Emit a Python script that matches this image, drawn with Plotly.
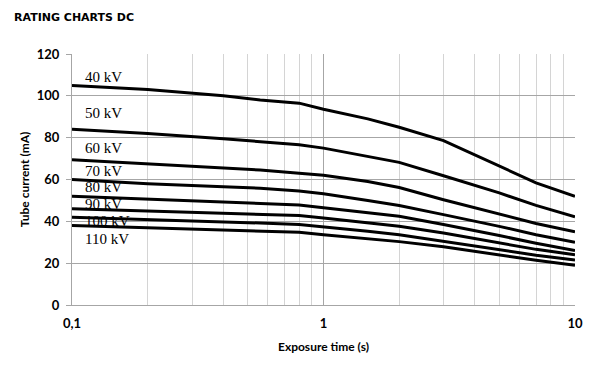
import plotly.graph_objects as go
import math

# Exposure time (s)
times = [0.1, 0.2, 0.4, 0.56, 0.8, 1, 1.5, 2, 3, 4, 5, 7, 10]

# Tube current (mA) per tube voltage
kv_labels = ["40 kV", "50 kV", "60 kV", "70 kV", "80 kV", "90 kV", "100 kV", "110 kV"]
ma_40 = [105, 103, 100, 98, 96.5, 93.6, 89, 85, 78.6, 71.8, 66.2, 58.4, 52]
ma_50 = [84, 82, 79.5, 78, 76.6, 75, 71.2, 68.2, 61.8, 57.2, 53.6, 47.6, 42.2]
ma_60 = [69.5, 67.5, 65.5, 64.5, 63, 62, 59, 56.2, 50.3, 46.5, 43.5, 39, 35]
ma_70 = [60, 58, 56.5, 55.8, 54.5, 53.2, 50, 47.6, 43.2, 40.2, 37.6, 33.6, 30]
ma_80 = [52, 50.5, 49.2, 48.6, 47.8, 46.5, 44.2, 42.4, 38.5, 35.6, 33.2, 29.5, 26]
ma_90 = [46, 45, 44, 43.6, 42.8, 41.6, 39.4, 37.6, 34.4, 31.8, 29.8, 26.6, 24]
ma_100 = [42, 41, 39.8, 39.2, 38.5, 37.4, 35.3, 33.6, 30.5, 28.2, 26.4, 23.8, 21.5]
ma_110 = [38, 37, 36, 35.6, 34.8, 33.6, 31.8, 30.3, 27.8, 25.6, 24, 21.4, 19]
series = [ma_40, ma_50, ma_60, ma_70, ma_80, ma_90, ma_100, ma_110]

# label anchor values (mA)
label_y = [109, 92, 75, 64, 56.5, 48.5, 40, 31.5]

fig = go.Figure()
for name, vals in zip(kv_labels, series):
    fig.add_trace(go.Scatter(x=times, y=vals, mode="lines", name=name,
                             line=dict(color="black", width=3),
                             showlegend=False))

for name, ly in zip(kv_labels, label_y):
    fig.add_annotation(x=math.log10(0.111), y=ly, xref="x", yref="y", text=name,
                       showarrow=False, xanchor="left", yanchor="middle",
                       font=dict(family="Liberation Serif", size=15, color="black"))

minor_vals = [0.2, 0.3, 0.4, 0.5, 0.6, 0.7, 0.8, 0.9, 2, 3, 4, 5, 6, 7, 8, 9]

fig.update_xaxes(type="log", range=[-1, 1],
                 tickvals=[0.1, 1, 10], ticktext=["0,1", "1", "10"],
                 showgrid=True, gridcolor="#a6a6a6", gridwidth=1,
                 minor=dict(tickvals=minor_vals, showgrid=True, gridcolor="#d4d4d4", gridwidth=1),
                 showline=True, linecolor="#a6a6a6", linewidth=1,
                 ticks="", zeroline=False, ticklabelstandoff=6,
                 tickfont=dict(family="Lato", size=13, color="black", weight="bold"),
                 title=dict(text="Exposure time (s)", standoff=13,
                            font=dict(family="Lato", size=12, color="black", weight="bold")))
fig.update_yaxes(range=[0, 120], dtick=20,
                 showgrid=True, gridcolor="#a6a6a6", gridwidth=1,
                 showline=True, linecolor="#a6a6a6", linewidth=1,
                 ticks="outside", ticklen=5, tickcolor="#a6a6a6",
                 zeroline=False, ticklabelstandoff=4,
                 tickfont=dict(family="Lato", size=13, color="black", weight="bold"),
                 title=dict(text="Tube current (mA)", standoff=4,
                            font=dict(family="Lato", size=12, color="black", weight="bold")))

fig.update_layout(width=602, height=378,
                  margin=dict(l=64, r=35, t=46, b=81),
                  plot_bgcolor="white", paper_bgcolor="white",
                  title=dict(text="RATING CHARTS DC", x=0.01, xanchor="left", y=0.985, yanchor="top",
                             font=dict(family="DejaVu Sans", size=11, color="black", weight="bold")))

fig.write_html("out.html")
